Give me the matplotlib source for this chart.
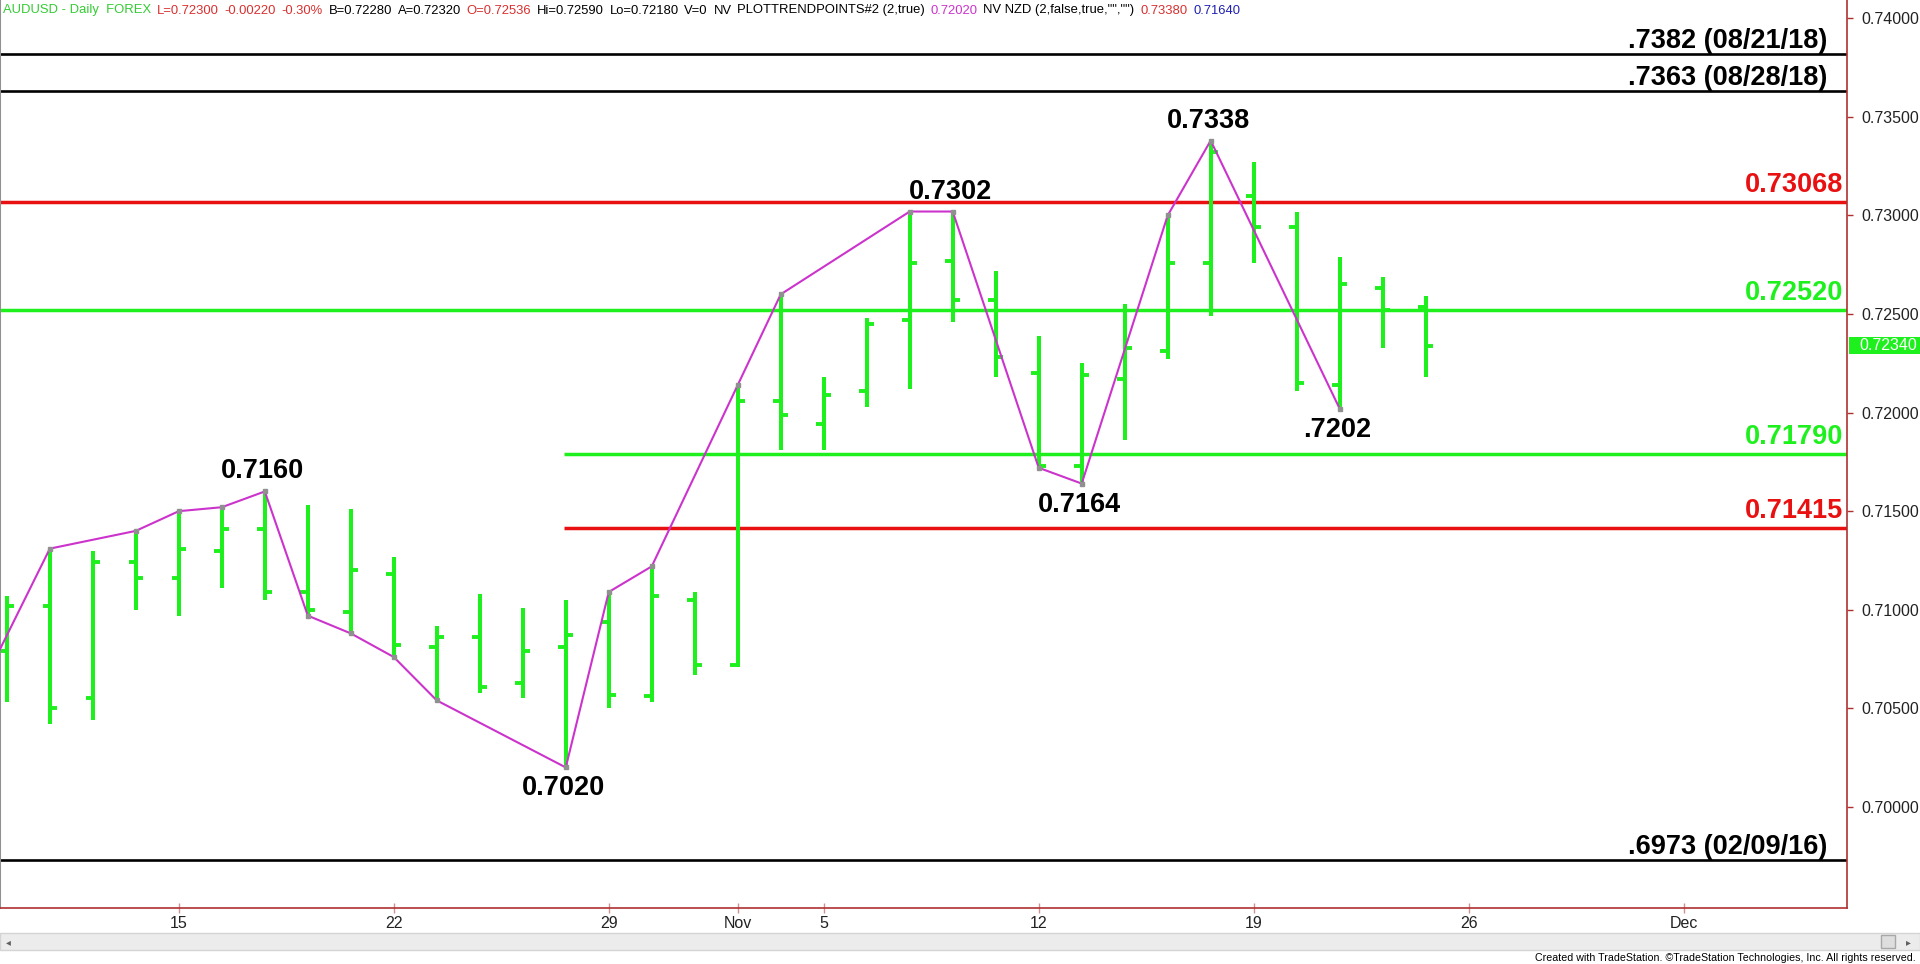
import numpy as np
import pandas as pd
import matplotlib
matplotlib.use('Agg')
from matplotlib import pyplot as plt
from matplotlib import font_manager
from matplotlib.patches import Rectangle
from matplotlib.transforms import blended_transform_factory

# AUDUSD daily bars, Oct 9 - Nov 23 2018
dates = pd.bdate_range('2018-10-09', '2018-11-23')
opens = [0.7079, 0.7102, 0.7055, 0.7124, 0.7116, 0.7130, 0.7141, 0.7109, 0.7099,
         0.7118, 0.7081, 0.7086, 0.7063, 0.7081, 0.7094, 0.7056, 0.7105, 0.7072,
         0.7206, 0.7194, 0.7211, 0.7247, 0.7277, 0.7257, 0.7220, 0.7173, 0.7217,
         0.7231, 0.7276, 0.7310, 0.7294, 0.7214, 0.7263, 0.72536]
highs = [0.7107, 0.7131, 0.7130, 0.7140, 0.7150, 0.7152, 0.7160, 0.7153, 0.7151,
         0.7127, 0.7092, 0.7108, 0.7101, 0.7105, 0.7109, 0.7122, 0.7109, 0.7214,
         0.7260, 0.7218, 0.7248, 0.7302, 0.7302, 0.7272, 0.7239, 0.7225, 0.7255,
         0.7300, 0.7338, 0.7327, 0.7302, 0.7279, 0.7269, 0.7259]
lows = [0.7053, 0.7042, 0.7044, 0.7100, 0.7097, 0.7111, 0.7105, 0.7097, 0.7088,
        0.7076, 0.7054, 0.7058, 0.7055, 0.7020, 0.7050, 0.7053, 0.7067, 0.7071,
        0.7181, 0.7181, 0.7203, 0.7212, 0.7246, 0.7218, 0.7172, 0.7164, 0.7186,
        0.7227, 0.7249, 0.7276, 0.7211, 0.7202, 0.7233, 0.7218]
closes = [0.7102, 0.7050, 0.7124, 0.7116, 0.7131, 0.7141, 0.7109, 0.7100, 0.7120,
          0.7082, 0.7086, 0.7061, 0.7079, 0.7087, 0.7057, 0.7107, 0.7072, 0.7206,
          0.7199, 0.7209, 0.7245, 0.7276, 0.7257, 0.7228, 0.7173, 0.7219, 0.7233,
          0.7276, 0.7332, 0.7294, 0.7215, 0.7265, 0.7252, 0.7234]
last_price = 0.72340

# PLOTTRENDPOINTS swing line
trend_dates = ['2018-10-08', '2018-10-10', '2018-10-12', '2018-10-15', '2018-10-16',
               '2018-10-17', '2018-10-18', '2018-10-19', '2018-10-22', '2018-10-23',
               '2018-10-26', '2018-10-29', '2018-10-30', '2018-11-01', '2018-11-02',
               '2018-11-07', '2018-11-08', '2018-11-12', '2018-11-13', '2018-11-15',
               '2018-11-16', '2018-11-21']
trend_vals = [0.7043, 0.7131, 0.7140, 0.7150, 0.7152, 0.7160, 0.7097, 0.7088, 0.7076,
              0.7054, 0.7020, 0.7109, 0.7122, 0.7214, 0.7260, 0.7302, 0.7302, 0.7172,
              0.7164, 0.7300, 0.7338, 0.7202]

swing_dates = ['2018-10-17', '2018-10-26', '2018-11-08', '2018-11-13', '2018-11-16', '2018-11-21']
swing_vals = [0.7160, 0.7020, 0.7302, 0.7164, 0.7338, 0.7202]
swing_texts = ['0.7160', '0.7020', '0.7302', '0.7164', '0.7338', '.7202']
swing_above = [True, False, True, False, True, False]

# horizontal levels
level_prices = [0.7382, 0.7363, 0.73068, 0.72520, 0.71790, 0.71415, 0.6973]
level_texts = ['.7382 (08/21/18)', '.7363 (08/28/18)', '0.73068', '0.72520',
               '0.71790', '0.71415', '.6973 (02/09/16)']
level_start = [None, None, None, None, '2018-10-26', '2018-10-26', None]

tick_dates = ['2018-10-15', '2018-10-22', '2018-10-29', '2018-11-01', '2018-11-05',
              '2018-11-12', '2018-11-19', '2018-11-26', '2018-12-03']
tick_labels = ['15', '22', '29', 'Nov', '5', '12', '19', '26', 'Dec']

GREEN = '#1ef01e'
RED = '#e81010'
MAGENTA = '#cc33cc'
AXRED = '#b03030'

names = {f.name for f in font_manager.fontManager.ttflist}
narrow = 'Liberation Sans Narrow' if 'Liberation Sans Narrow' in names else 'Liberation Sans'
hdr_size = 10.5 if narrow == 'Liberation Sans Narrow' else 9.4
plt.rcParams['font.family'] = ['Liberation Sans', 'DejaVu Sans']

axis_dates = pd.bdate_range('2018-10-08', '2018-12-14')
def pos(d):
    return axis_dates.get_indexer(pd.to_datetime(d))

x = pos(dates)

fig = plt.figure(figsize=(19.2, 9.64), dpi=100)
ax = fig.add_axes([0, 1 - 908 / 964, 1847 / 1920, 908 / 964])

# OHLC bars
ax.vlines(x, lows, highs, color=GREEN, linewidth=2.9)
ax.hlines(opens, x - 0.17, x, color=GREEN, linewidth=2.8)
ax.hlines(closes, x, x + 0.17, color=GREEN, linewidth=2.8)

# levels
for price, txt, start in zip(level_prices, level_texts, level_start):
    if txt.startswith('.'):
        col, lw, off = 'black', 1.9, (-16, 6)
    elif price in (0.73068, 0.71415):
        col, lw, off = RED, 2.5, (0, 10)
    else:
        col, lw, off = GREEN, 2.5, (0, 10)
    if start is None:
        ax.axhline(price, color=col, linewidth=lw, zorder=1)
    else:
        ax.hlines(price, pos([start])[0] - 0.05, 60, color=col, linewidth=lw, zorder=1)
    ax.annotate(txt, xy=(0.998, price), xycoords=ax.get_yaxis_transform(),
                xytext=off, textcoords='offset pixels', ha='right', va='baseline',
                fontsize=19.5, fontweight='bold', color=col)

# trend line
tx = pos(trend_dates)
ax.plot(tx, trend_vals, color=MAGENTA, linewidth=1.5, zorder=3)
ax.plot(tx, trend_vals, linestyle='none', marker='s', markersize=2.5,
        color='#909090', zorder=4)

for d, v, t, up in zip(swing_dates, swing_vals, swing_texts, swing_above):
    dy = 13 if up else -28
    ax.annotate(t, xy=(pos([d])[0], v), xytext=(-2, dy), textcoords='offset pixels',
                ha='center', va='baseline', fontsize=19.5, fontweight='bold', color='black')

ax.set_xlim(pos(['2018-10-09'])[0] - 0.159, pos(['2018-10-09'])[0] + 42.80)
ax.set_ylim(0.69487, 0.74093)

ax.set_yticks(np.arange(0.700, 0.7401, 0.005))
ax.yaxis.set_major_formatter(plt.FormatStrFormatter('%.5f'))
ax.yaxis.tick_right()
ax.tick_params(axis='y', direction='out', length=4, width=1, color=AXRED,
               labelsize=11.5, labelcolor='#222222', pad=6)
ax.set_xticks(pos(tick_dates))
ax.set_xticklabels(tick_labels)
ax.tick_params(axis='x', direction='inout', length=7, width=1, color='#d09090',
               labelsize=11.5, labelcolor='#222222', pad=2)

ax.spines['top'].set_visible(False)
ax.spines['left'].set_color('#909090')
ax.spines['left'].set_linewidth(1.5)
ax.spines['right'].set_color(AXRED)
ax.spines['right'].set_linewidth(1.2)
ax.spines['bottom'].set_color(AXRED)
ax.spines['bottom'].set_linewidth(1.2)

# last price marker
tr = blended_transform_factory(fig.transFigure, ax.transData)
ax.add_patch(Rectangle((1849 / 1920, last_price - 0.00043), 71 / 1920, 0.00086,
                       transform=tr, facecolor=GREEN, edgecolor='none', clip_on=False))
ax.text(1859 / 1920, last_price, '%.5f' % last_price, transform=tr, va='center',
        ha='left', fontsize=11.5, color='white')

# header line, laid out left to right so it ends where the original does
header = [('AUDUSD - Daily  FOREX', '#33cc33'), ('L=0.72300', '#d83030'),
          ('-0.00220', '#d83030'), ('-0.30%', '#d83030'),
          ('B=0.72280', 'black'), ('A=0.72320', 'black'),
          ('O=0.72536', '#d83030'), ('Hi=0.72590', 'black'),
          ('Lo=0.72180', 'black'), ('V=0', 'black'), ('NV', 'black'),
          ('PLOTTRENDPOINTS#2 (2,true)', 'black'), ('0.72020', '#cc33cc'),
          ('NV NZD (2,false,true,"","")', 'black'), ('0.73380', '#d83030'),
          ('0.71640', '#2020b0')]
renderer = fig.canvas.get_renderer()
htexts = [fig.text(0, 1 - 13.5 / 964, txt, fontsize=hdr_size, color=col, family=narrow,
                   va='baseline', ha='left') for txt, col in header]
widths = [t.get_window_extent(renderer).width for t in htexts]
gap = max(3.0, (1240 - 3 - sum(widths)) / (len(widths) - 1))
hx = 3.0
for t, w in zip(htexts, widths):
    t.set_x(hx / 1920)
    hx += w + gap

# scroll bar and footer
fig.patches.append(Rectangle((0, 1 - 950 / 964), 1, 17 / 964, transform=fig.transFigure,
                             facecolor='#ececec', edgecolor='#d4d4d4', linewidth=1))
fig.patches.append(Rectangle((1881 / 1920, 1 - 948 / 964), 14 / 1920, 13 / 964,
                             transform=fig.transFigure, facecolor='#dedede',
                             edgecolor='#a8a8a8', linewidth=1))
fig.text(6 / 1920, 1 - 942 / 964, '\u25c2', fontsize=7, color='#606060', va='center')
fig.text(1906 / 1920, 1 - 942 / 964, '\u25b8', fontsize=7, color='#606060', va='center')
fig.text(1916 / 1920, 1 - 961 / 964,
         'Created with TradeStation. \u00a9TradeStation Technologies, Inc. All rights reserved.',
         fontsize=7.7, family=narrow, ha='right', va='baseline', color='black')

fig.savefig('out.png', dpi=100, facecolor='white')
